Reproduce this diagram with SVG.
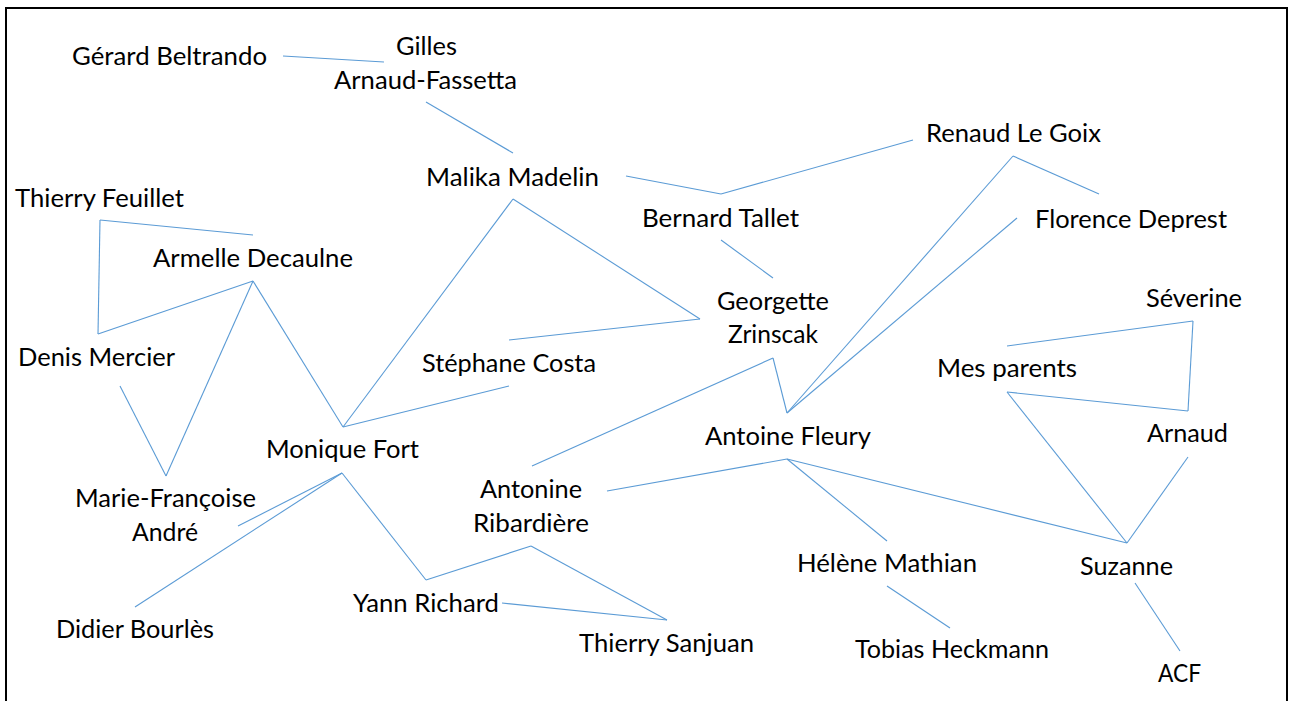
<svg xmlns="http://www.w3.org/2000/svg" width="1295" height="701" viewBox="0 0 1295 701">
<style>
.n text{font-family:Lato,"Open Sans","Liberation Sans",sans-serif;font-size:25.5px;fill:#000}
.c line{stroke:#5b9bd5;stroke-width:1.1;fill:none}
</style>
<rect x="0" y="0" width="1295" height="701" fill="#fff"/>
<rect x="6" y="8" width="1281" height="710" fill="none" stroke="#000" stroke-width="2"/>
<g id="connectors" class="c">
<line x1="283" y1="56" x2="384" y2="62"/>
<line x1="426" y1="102" x2="513" y2="153"/>
<line x1="626" y1="176" x2="721" y2="194"/>
<line x1="721" y1="194" x2="913" y2="140"/>
<line x1="721" y1="240" x2="773" y2="278"/>
<line x1="513" y1="199" x2="700" y2="319"/>
<line x1="513" y1="199" x2="343" y2="427"/>
<line x1="509" y1="340" x2="700" y2="319"/>
<line x1="1013" y1="156" x2="1099" y2="194"/>
<line x1="1013" y1="156" x2="787" y2="413"/>
<line x1="1017" y1="218" x2="787" y2="413"/>
<line x1="773" y1="358" x2="787" y2="413"/>
<line x1="773" y1="358" x2="532" y2="466"/>
<line x1="100" y1="220" x2="253" y2="235"/>
<line x1="100" y1="220" x2="98" y2="334"/>
<line x1="98" y1="334" x2="253" y2="281"/>
<line x1="253" y1="281" x2="166" y2="476"/>
<line x1="120" y1="386" x2="166" y2="476"/>
<line x1="253" y1="281" x2="343" y2="427"/>
<line x1="343" y1="427" x2="509" y2="386"/>
<line x1="342" y1="473" x2="238" y2="526"/>
<line x1="342" y1="473" x2="135" y2="607"/>
<line x1="342" y1="473" x2="426" y2="580"/>
<line x1="426" y1="580" x2="531" y2="546"/>
<line x1="531" y1="546" x2="667" y2="620"/>
<line x1="502" y1="603" x2="667" y2="620"/>
<line x1="787" y1="459" x2="607" y2="491"/>
<line x1="787" y1="459" x2="887" y2="541"/>
<line x1="787" y1="459" x2="1127" y2="543"/>
<line x1="887" y1="586" x2="950" y2="628"/>
<line x1="1007" y1="346" x2="1193" y2="321"/>
<line x1="1193" y1="321" x2="1188" y2="411"/>
<line x1="1188" y1="411" x2="1007" y2="392"/>
<line x1="1007" y1="392" x2="1127" y2="543"/>
<line x1="1188" y1="457" x2="1127" y2="543"/>
<line x1="1135" y1="583" x2="1180" y2="651"/>
</g>
<g class="n">
<g id="gerard-beltrando"><text x="72" y="65" textLength="195" lengthAdjust="spacingAndGlyphs">Gérard Beltrando</text></g>
<g id="gilles-arnaud-fassetta"><text x="396" y="55" textLength="61" lengthAdjust="spacingAndGlyphs">Gilles</text><text x="334" y="89" textLength="183" lengthAdjust="spacingAndGlyphs">Arnaud-Fassetta</text></g>
<g id="malika-madelin"><text x="426" y="186" textLength="173" lengthAdjust="spacingAndGlyphs">Malika Madelin</text></g>
<g id="renaud-le-goix"><text x="926" y="142" textLength="175" lengthAdjust="spacingAndGlyphs">Renaud Le Goix</text></g>
<g id="bernard-tallet"><text x="642" y="227" textLength="157" lengthAdjust="spacingAndGlyphs">Bernard Tallet</text></g>
<g id="florence-deprest"><text x="1035" y="228" textLength="192" lengthAdjust="spacingAndGlyphs">Florence Deprest</text></g>
<g id="thierry-feuillet"><text x="15" y="207" textLength="169" lengthAdjust="spacingAndGlyphs">Thierry Feuillet</text></g>
<g id="armelle-decaulne"><text x="153" y="267" textLength="200" lengthAdjust="spacingAndGlyphs">Armelle Decaulne</text></g>
<g id="georgette-zrinscak"><text x="717" y="310" textLength="112" lengthAdjust="spacingAndGlyphs">Georgette</text><text x="728" y="343" textLength="90" lengthAdjust="spacingAndGlyphs">Zrinscak</text></g>
<g id="severine"><text x="1146" y="307" textLength="96" lengthAdjust="spacingAndGlyphs">Séverine</text></g>
<g id="denis-mercier"><text x="18" y="366" textLength="157" lengthAdjust="spacingAndGlyphs">Denis Mercier</text></g>
<g id="stephane-costa"><text x="422" y="372" textLength="174" lengthAdjust="spacingAndGlyphs">Stéphane Costa</text></g>
<g id="mes-parents"><text x="937" y="377" textLength="140" lengthAdjust="spacingAndGlyphs">Mes parents</text></g>
<g id="antoine-fleury"><text x="705" y="445" textLength="166" lengthAdjust="spacingAndGlyphs">Antoine Fleury</text></g>
<g id="arnaud"><text x="1147" y="442" textLength="81" lengthAdjust="spacingAndGlyphs">Arnaud</text></g>
<g id="monique-fort"><text x="266" y="458" textLength="153" lengthAdjust="spacingAndGlyphs">Monique Fort</text></g>
<g id="antonine-ribardiere"><text x="480" y="498" textLength="102" lengthAdjust="spacingAndGlyphs">Antonine</text><text x="473" y="532" textLength="116" lengthAdjust="spacingAndGlyphs">Ribardière</text></g>
<g id="marie-francoise-andre"><text x="75" y="507" textLength="181" lengthAdjust="spacingAndGlyphs">Marie-Françoise</text><text x="132" y="541" textLength="66" lengthAdjust="spacingAndGlyphs">André</text></g>
<g id="helene-mathian"><text x="797" y="572" textLength="180" lengthAdjust="spacingAndGlyphs">Hélène Mathian</text></g>
<g id="suzanne"><text x="1080" y="575" textLength="93" lengthAdjust="spacingAndGlyphs">Suzanne</text></g>
<g id="yann-richard"><text x="353" y="612" textLength="146" lengthAdjust="spacingAndGlyphs">Yann Richard</text></g>
<g id="didier-bourles"><text x="56" y="638" textLength="158" lengthAdjust="spacingAndGlyphs">Didier Bourlès</text></g>
<g id="thierry-sanjuan"><text x="579" y="652" textLength="175" lengthAdjust="spacingAndGlyphs">Thierry Sanjuan</text></g>
<g id="tobias-heckmann"><text x="855" y="658" textLength="194" lengthAdjust="spacingAndGlyphs">Tobias Heckmann</text></g>
<g id="acf"><text x="1158" y="682" textLength="43" lengthAdjust="spacingAndGlyphs">ACF</text></g>
</g>
</svg>
